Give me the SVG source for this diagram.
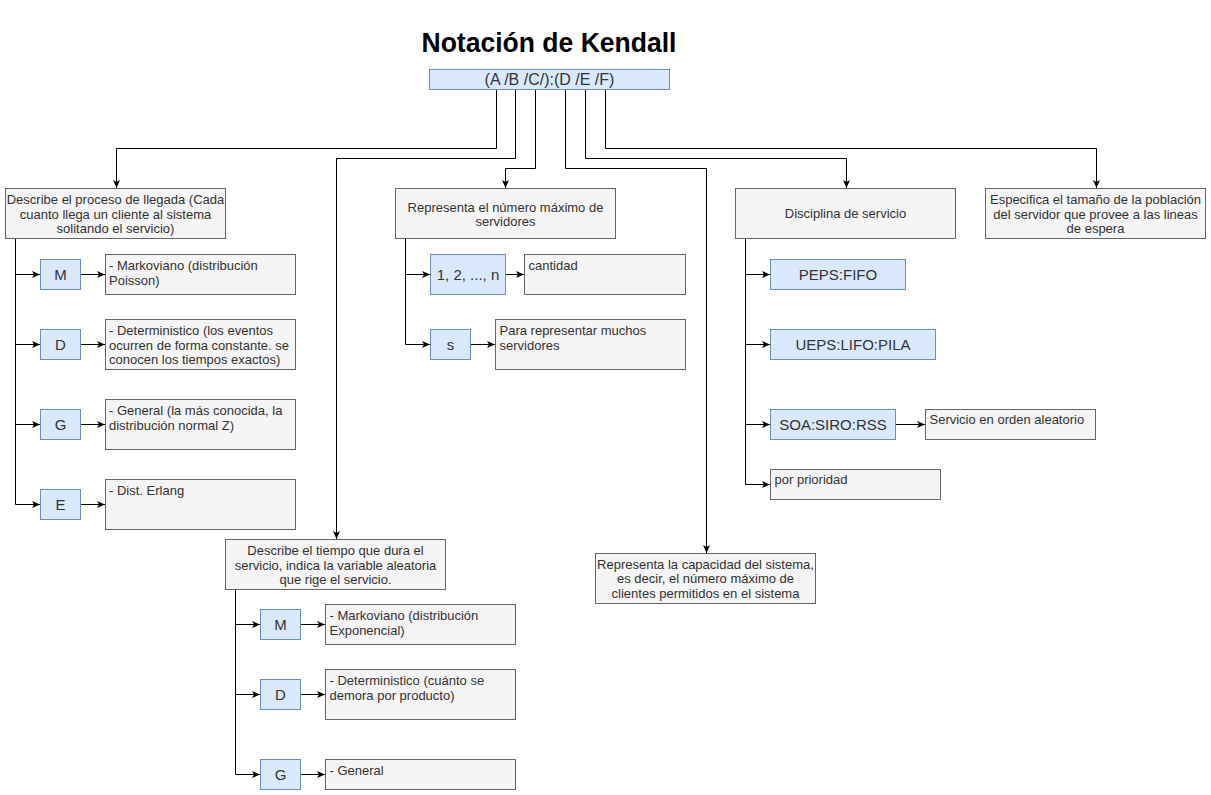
<svg xmlns="http://www.w3.org/2000/svg" width="1211" height="795" viewBox="0 0 1211 795">
<style>
.g{fill:#f5f5f5;stroke:#666666;stroke-width:1}
.b{fill:#dae8fc;stroke:#6c8ebf;stroke-width:1}
.t{font-family:"Liberation Sans",Arial,sans-serif;font-size:13px;fill:#333333}
.c{text-anchor:middle}
.bt{font-family:"Liberation Sans",Arial,sans-serif;font-size:15px;fill:#333333;text-anchor:middle}
.e{fill:none;stroke:#000000;stroke-width:1}
</style>
<defs>
<marker id="a" markerUnits="userSpaceOnUse" markerWidth="9" markerHeight="9" refX="8" refY="4" orient="auto" viewBox="0 0 9 8">
<path d="M0,0.5 L8,4 L0,7.5 L2,4 z" fill="#000000"/>
</marker>
</defs>
<rect width="1211" height="795" fill="#ffffff"/>
<text id="title" x="549" y="52" text-anchor="middle" font-family="Liberation Sans,Arial,sans-serif" font-weight="bold" font-size="27" textLength="255" lengthAdjust="spacingAndGlyphs" fill="#000000">Notación de Kendall</text>

<g id="connectors" class="e" marker-end="url(#a)">
<path d="M496.5,89 V148.5 H116.5 V188"/>
<path d="M515.5,89 V158.5 H336.5 V539"/>
<path d="M535.5,89 V168.5 H505.5 V188"/>
<path d="M565.5,89 V168.5 H706.5 V553"/>
<path d="M585.5,89 V158.5 H846.5 V188"/>
<path d="M605.5,89 V148.5 H1096.5 V188"/>
<path d="M15.5,238 V274.5 H40"/>
<path d="M15.5,238 V344.5 H40"/>
<path d="M15.5,238 V424.5 H40"/>
<path d="M15.5,238 V504.5 H40"/>
<path d="M80,274.5 H105"/>
<path d="M80,344.5 H105"/>
<path d="M80,424.5 H105"/>
<path d="M80,504.5 H105"/>
<path d="M405.5,238 V274.5 H430"/>
<path d="M405.5,238 V344.5 H430"/>
<path d="M505,274.5 H524"/>
<path d="M470,344.5 H495"/>
<path d="M235.5,589 V624.5 H260"/>
<path d="M235.5,589 V694.5 H260"/>
<path d="M235.5,589 V774.5 H260"/>
<path d="M300,624.5 H325"/>
<path d="M300,694.5 H325"/>
<path d="M300,774.5 H325"/>
<path d="M745.5,238 V274.5 H770"/>
<path d="M745.5,238 V344.5 H770"/>
<path d="M745.5,238 V424.5 H770"/>
<path d="M745.5,238 V484.5 H770"/>
<path d="M895,424.5 H925"/>
</g>

<g id="kendall">
<rect class="b" x="429.5" y="69.5" width="240" height="20"/>
<text x="549.5" y="85" font-family="Liberation Sans,Arial,sans-serif" font-size="16" fill="#333333" text-anchor="middle">(A /B /C/):(D /E /F)</text>
</g>

<g id="llegada">
<rect class="g" x="5.5" y="188.5" width="220" height="50"/>
<text class="t c" x="115.5"><tspan x="115.5" y="204">Describe el proceso de llegada (Cada</tspan><tspan x="115.5" y="218.5">cuanto llega un cliente al sistema</tspan><tspan x="115.5" y="233">solitando el servicio)</tspan></text>
</g>
<g id="a-m"><rect class="b" x="40.5" y="259.5" width="40" height="30"/><text class="bt" x="60.5" y="280">M</text></g>
<g id="a-m-desc"><rect class="g" x="105.5" y="254.5" width="190" height="40"/><text class="t"><tspan x="109" y="270">- Markoviano (distribución</tspan><tspan x="109" y="284.5">Poisson)</tspan></text></g>
<g id="a-d"><rect class="b" x="40.5" y="329.5" width="40" height="30"/><text class="bt" x="60.5" y="350">D</text></g>
<g id="a-d-desc"><rect class="g" x="105.5" y="319.5" width="190" height="50"/><text class="t"><tspan x="109" y="335">- Deterministico (los eventos</tspan><tspan x="109" y="349.5">ocurren de forma constante. se</tspan><tspan x="109" y="364">conocen los tiempos exactos)</tspan></text></g>
<g id="a-g"><rect class="b" x="40.5" y="409.5" width="40" height="30"/><text class="bt" x="60.5" y="430">G</text></g>
<g id="a-g-desc"><rect class="g" x="105.5" y="399.5" width="190" height="50"/><text class="t"><tspan x="109" y="415">- General (la más conocida, la</tspan><tspan x="109" y="429.5">distribución normal Z)</tspan></text></g>
<g id="a-e"><rect class="b" x="40.5" y="489.5" width="40" height="30"/><text class="bt" x="60.5" y="510">E</text></g>
<g id="a-e-desc"><rect class="g" x="105.5" y="479.5" width="190" height="50"/><text class="t" x="109" y="495">- Dist. Erlang</text></g>

<g id="servidores">
<rect class="g" x="395.5" y="188.5" width="220" height="50"/>
<text class="t c"><tspan x="505.5" y="211.5">Representa el número máximo de</tspan><tspan x="505.5" y="226">servidores</tspan></text>
</g>
<g id="c-n"><rect class="b" x="430.5" y="254.5" width="75" height="40"/><text class="bt" x="468" y="280">1, 2, ..., n</text></g>
<g id="c-n-desc"><rect class="g" x="524.5" y="254.5" width="161" height="40"/><text class="t" x="528.5" y="270">cantidad</text></g>
<g id="c-s"><rect class="b" x="430.5" y="329.5" width="40" height="30"/><text class="bt" x="450.5" y="350">s</text></g>
<g id="c-s-desc"><rect class="g" x="495.5" y="319.5" width="190" height="50"/><text class="t"><tspan x="499.5" y="335">Para representar muchos</tspan><tspan x="499.5" y="349.5">servidores</tspan></text></g>

<g id="tiempo">
<rect class="g" x="225.5" y="539.5" width="220" height="50"/>
<text class="t c"><tspan x="335.5" y="555">Describe el tiempo que dura el</tspan><tspan x="335.5" y="569.5">servicio, indica la variable aleatoria</tspan><tspan x="335.5" y="584">que rige el servicio.</tspan></text>
</g>
<g id="b-m"><rect class="b" x="260.5" y="609.5" width="40" height="30"/><text class="bt" x="280.5" y="630">M</text></g>
<g id="b-m-desc"><rect class="g" x="325.5" y="604.5" width="190" height="40"/><text class="t"><tspan x="329.5" y="620">- Markoviano (distribución</tspan><tspan x="329.5" y="634.5">Exponencial)</tspan></text></g>
<g id="b-d"><rect class="b" x="260.5" y="679.5" width="40" height="30"/><text class="bt" x="280.5" y="700">D</text></g>
<g id="b-d-desc"><rect class="g" x="325.5" y="669.5" width="190" height="50"/><text class="t"><tspan x="329.5" y="685">- Deterministico (cuánto se</tspan><tspan x="329.5" y="699.5">demora por producto)</tspan></text></g>
<g id="b-g"><rect class="b" x="260.5" y="759.5" width="40" height="30"/><text class="bt" x="280.5" y="780">G</text></g>
<g id="b-g-desc"><rect class="g" x="325.5" y="759.5" width="190" height="30"/><text class="t" x="329.5" y="775">- General</text></g>

<g id="capacidad">
<rect class="g" x="595.5" y="553.5" width="220" height="50"/>
<text class="t c"><tspan x="705.5" y="568.5">Representa la capacidad del sistema,</tspan><tspan x="705.5" y="583">es decir, el número máximo de</tspan><tspan x="705.5" y="597.5">clientes permitidos en el sistema</tspan></text>
</g>

<g id="disciplina">
<rect class="g" x="735.5" y="188.5" width="220" height="50"/>
<text class="t c" x="845.5" y="218">Disciplina de servicio</text>
</g>
<g id="d-peps"><rect class="b" x="770.5" y="259.5" width="135" height="30"/><text class="bt" x="838" y="280">PEPS:FIFO</text></g>
<g id="d-ueps"><rect class="b" x="770.5" y="329.5" width="165" height="30"/><text class="bt" x="853" y="350">UEPS:LIFO:PILA</text></g>
<g id="d-soa"><rect class="b" x="770.5" y="409.5" width="125" height="30"/><text class="bt" x="833" y="430">SOA:SIRO:RSS</text></g>
<g id="d-soa-desc"><rect class="g" x="925.5" y="409.5" width="170" height="30"/><text class="t" x="929.5" y="424">Servicio en orden aleatorio</text></g>
<g id="d-prio"><rect class="g" x="770.5" y="469.5" width="170" height="30"/><text class="t" x="774.5" y="484">por prioridad</text></g>

<g id="poblacion">
<rect class="g" x="985.5" y="188.5" width="220" height="50"/>
<text class="t c"><tspan x="1095.5" y="204">Especifica el tamaño de la población</tspan><tspan x="1095.5" y="218.5">del servidor que provee a las lineas</tspan><tspan x="1095.5" y="233">de espera</tspan></text>
</g>
</svg>
